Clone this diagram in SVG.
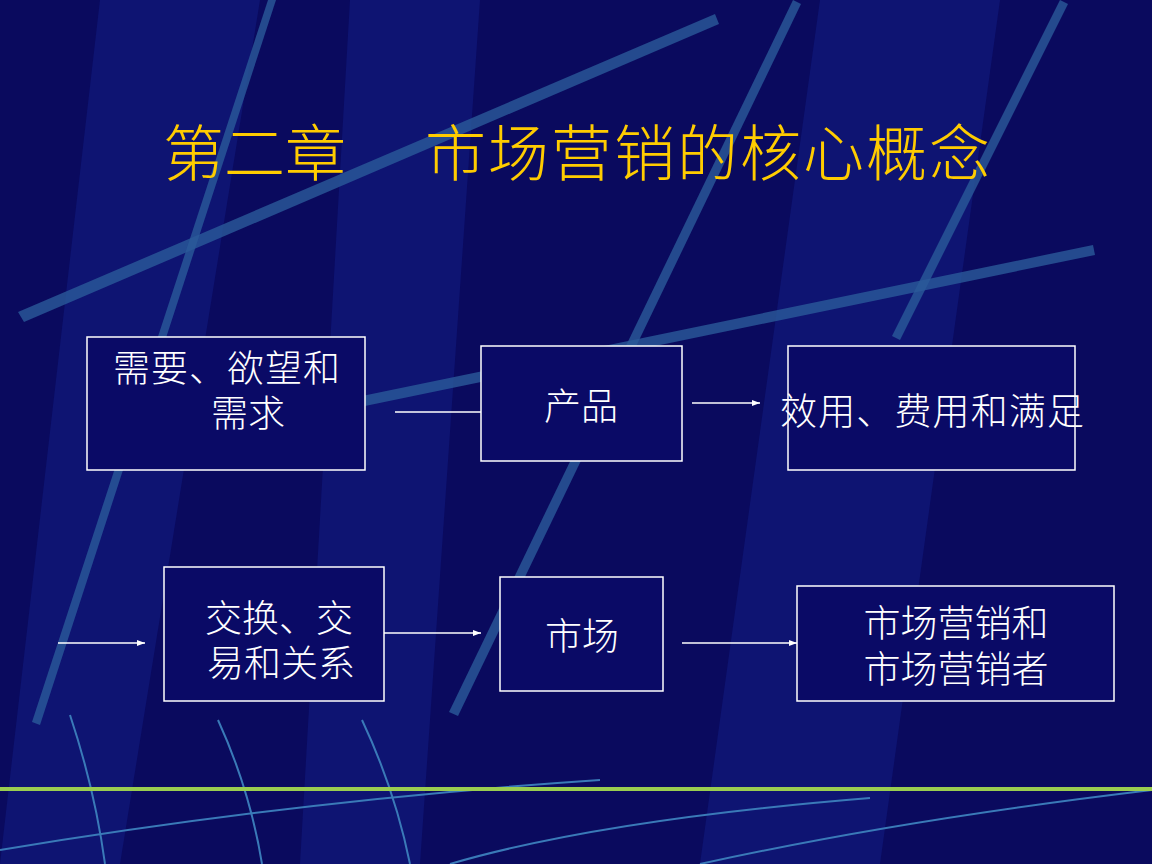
<svg xmlns="http://www.w3.org/2000/svg" width="1152" height="864" viewBox="0 0 1152 864">
<defs>
<style>
.bx{fill:#0a0a66;stroke:#ffffff;stroke-width:1.5}
.t{font-family:"Liberation Sans","Noto Sans CJK SC",sans-serif;font-size:37px;font-weight:300;fill:#ffffff}
.h{font-family:"Liberation Serif","Noto Sans CJK SC",serif;font-size:61px;font-weight:300;fill:#ffcc00}
.c{stroke:#ffffff;stroke-width:1.5;fill:none}
.s{fill:#2a5a9a;opacity:0.8}
.d{fill:#101a80;opacity:0.6}
.w{stroke:#3a7ab8;stroke-width:2;fill:none}
</style>
<marker id="a" markerWidth="8" markerHeight="6" refX="8" refY="3" orient="auto" markerUnits="userSpaceOnUse"><path d="M0,0L8,3L0,6z" fill="#ffffff"/></marker>
</defs>
<rect width="1152" height="864" fill="#0a0a5e"/>
<polygon class="d" points="100,0 260,0 120,864 0,864"/>
<polygon class="d" points="820,0 1000,0 880,864 700,864"/>
<polygon class="d" points="350,0 480,0 420,864 300,864"/>
<polygon class="s" points="18,312 715,14 719,24 24,322"/>
<polygon class="s" points="268,0 276,0 40,725 32,722"/>
<polygon class="s" points="793,0 801,4 458,716 449,712"/>
<polygon class="s" points="362,396 1093,245 1095,255 365,406"/>
<polygon class="s" points="1060,0 1068,4 900,340 892,336"/>
<path class="w" d="M70,715 Q95,790 105,864"/>
<path class="w" d="M218,720 Q250,790 262,864"/>
<path class="w" d="M362,720 Q395,790 410,864"/>
<path class="w" d="M0,850 Q300,800 600,780"/>
<path class="w" d="M450,864 Q600,820 870,798"/>
<path class="w" d="M700,864 Q900,820 1152,790"/>
<rect y="787" width="1152" height="4" fill="#9acd50"/>
<text class="h" x="163" y="176">第二章</text>
<text class="h" x="425" y="176" textLength="565">市场营销的核心概念</text>
<g id="connectors">
<line class="c" x1="395" y1="412" x2="481" y2="412"/>
<line class="c" x1="692" y1="403" x2="760" y2="403" marker-end="url(#a)"/>
<line class="c" x1="58" y1="643" x2="145" y2="643" marker-end="url(#a)"/>
<line class="c" x1="384" y1="633" x2="481" y2="633" marker-end="url(#a)"/>
<line class="c" x1="682" y1="643" x2="797" y2="643" marker-end="url(#a)"/>
</g>
<g id="n1"><rect class="bx" x="87" y="337" width="278" height="133"/><text class="t" x="113" y="382" textLength="227">需要、欲望和</text><text class="t" x="211" y="427">需求</text></g>
<g id="n2"><rect class="bx" x="481" y="346" width="201" height="115"/><text class="t" x="581" y="420" text-anchor="middle">产品</text></g>
<g id="n3"><rect class="bx" x="788" y="346" width="287" height="124"/><text class="t" x="780" y="425" textLength="304">效用、费用和满足</text></g>
<g id="n4"><rect class="bx" x="164" y="567" width="220" height="134"/><text class="t" x="205" y="632">交换、交</text><text class="t" x="207" y="677">易和关系</text></g>
<g id="n5"><rect class="bx" x="500" y="577" width="163" height="114"/><text class="t" x="582" y="650" text-anchor="middle">市场</text></g>
<g id="n6"><rect class="bx" x="797" y="586" width="317" height="115"/><text class="t" x="956" y="637" text-anchor="middle">市场营销和</text><text class="t" x="956" y="683" text-anchor="middle">市场营销者</text></g>
</svg>
